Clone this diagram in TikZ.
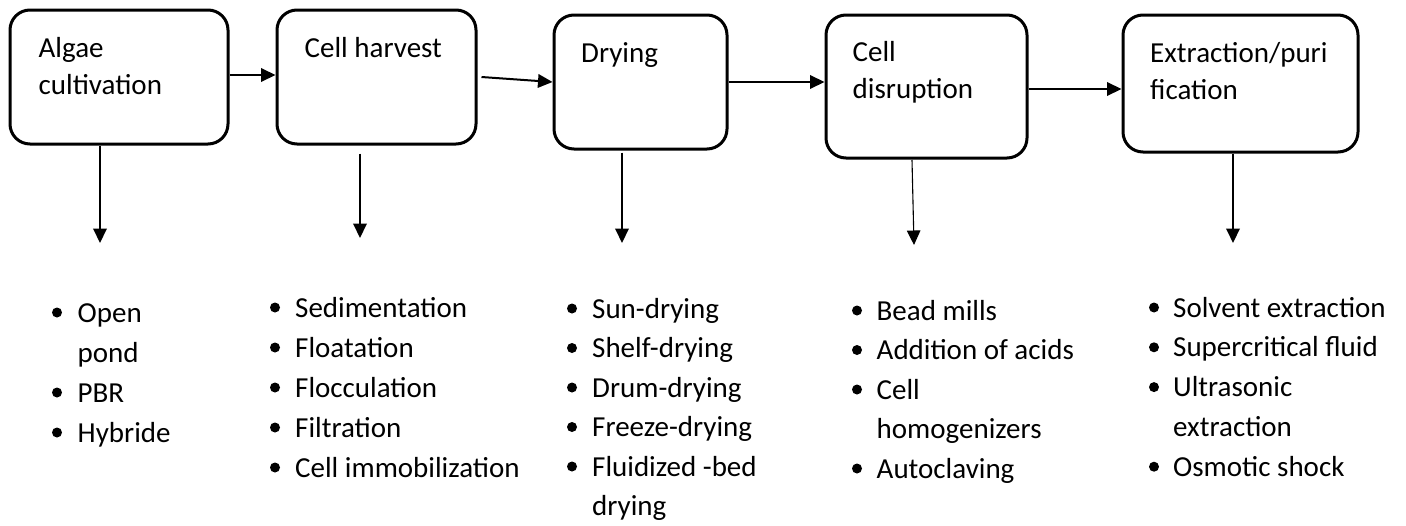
\documentclass[tikz,border=0pt]{standalone}
\usepackage{fontspec}
\setmainfont{Carlito}
\usetikzlibrary{arrows.meta}

\tikzset{
  stage/.style={draw, line width=3pt, rounded corners=20pt, inner sep=0pt},
  stagetext/.style={anchor=base west, inner sep=0pt, font=\fontsize{29}{37.5}\selectfont},
  itemtext/.style={anchor=base west, inner sep=0pt, font=\fontsize{29}{35}\selectfont},
  flow/.style={-{Triangle[length=14.5pt,width=13.5pt]}, line width=2pt},
  thinflow/.style={-{Triangle[length=14.5pt,width=13.5pt]}, line width=1.1pt},
}

% #1 name, #2 bullet x, #3 text x, #4 first baseline, #5 line pitch, #6 lines (text/bullet flag)
\newcommand\methodlist[6]{%
  \foreach \txt/\hasbullet [count=\k] in {#6}{%
    \node[itemtext] (#1-\k) at (#3, {#4+(\k-1)*#5}) {\txt};
    \ifnum\hasbullet=1 \fill (#2, {#4+(\k-1)*#5-9.5}) circle (5); \fi
  }}

\begin{document}
\begin{tikzpicture}[x=1pt, y=-1pt]
  \useasboundingbox (0,0) rectangle (1406,525);

  % process stages
  \node[stage, minimum width=218pt, minimum height=134pt] (b1) at (119,77) {};
  \node[stage, minimum width=199pt, minimum height=134pt] (b2) at (376.5,77) {};
  \node[stage, minimum width=173pt, minimum height=134pt] (b3) at (640.5,82) {};
  \node[stage, minimum width=201pt, minimum height=143pt] (b4) at (926.5,86.5) {};
  \node[stage, minimum width=235pt, minimum height=137pt] (b5) at (1240.5,83.5) {};

  \node[stagetext] (t1) at (38.5,57) {\begin{tabular}[t]{@{}l@{}}Algae\\cultivation\end{tabular}};
  \node[stagetext] (t2) at (304.5,57) {Cell harvest};
  \node[stagetext] (t3) at (581,62) {Drying};
  \node[stagetext] (t4) at (852.5,61) {\begin{tabular}[t]{@{}l@{}}Cell\\disruption\end{tabular}};
  \node[stagetext] (t5) at (1150,62) {\begin{tabular}[t]{@{}l@{}}Extraction/puri\\fication\end{tabular}};

  % flow between stages
  \draw[flow] ([yshift=2pt]b1.east) -- ([yshift=2pt]b1.east -| b2.west);
  \draw[flow] ([xshift=4pt]b2.east) -- (b3.west);
  \draw[flow] (b3.east) -- (b3.east -| b4.west);
  \draw[flow] ([yshift=-2.5pt]b4.east) -- ([yshift=-2.5pt]b4.east -| b5.west);

  % arrows down to the method lists
  \coordinate (d1) at (100,243);
  \coordinate (d2) at (360,238);
  \coordinate (d3) at (622,243);
  \coordinate (d4s) at (912,160);
  \coordinate (d4) at (914,245);
  \coordinate (d5) at (1233,243);
  \draw[flow] (b1.south -| d1) -- (d1);
  \draw[flow] ([yshift=-8pt]b2.south -| d2) -- (d2);
  \draw[flow] ([yshift=-2pt]b3.south -| d3) -- (d3);
  \draw[thinflow] (d4s) -- (d4);
  \draw[flow] (b5.south -| d5) -- (d5);

  % method lists
  \methodlist{m1}{57}{77.5}{322}{40}{Open/1, pond/0, PBR/1, Hybride/1}
  \methodlist{m2}{275}{295}{317}{40}{Sedimentation/1, Floatation/1, Flocculation/1, Filtration/1, Cell immobilization/1}
  \methodlist{m3}{572}{592}{318}{39.5}{Sun-drying/1, Shelf-drying/1, Drum-drying/1, Freeze-drying/1, Fluidized -bed/1, drying/0}
  \methodlist{m4}{857}{876.5}{320}{39.5}{Bead mills/1, Addition of acids/1, Cell/1, homogenizers/0, Autoclaving/1}
  \methodlist{m5}{1154}{1173}{317}{39.8}{Solvent extraction/1, Supercritical fluid/1, Ultrasonic/1, extraction/0, Osmotic shock/1}
\end{tikzpicture}
\end{document}
